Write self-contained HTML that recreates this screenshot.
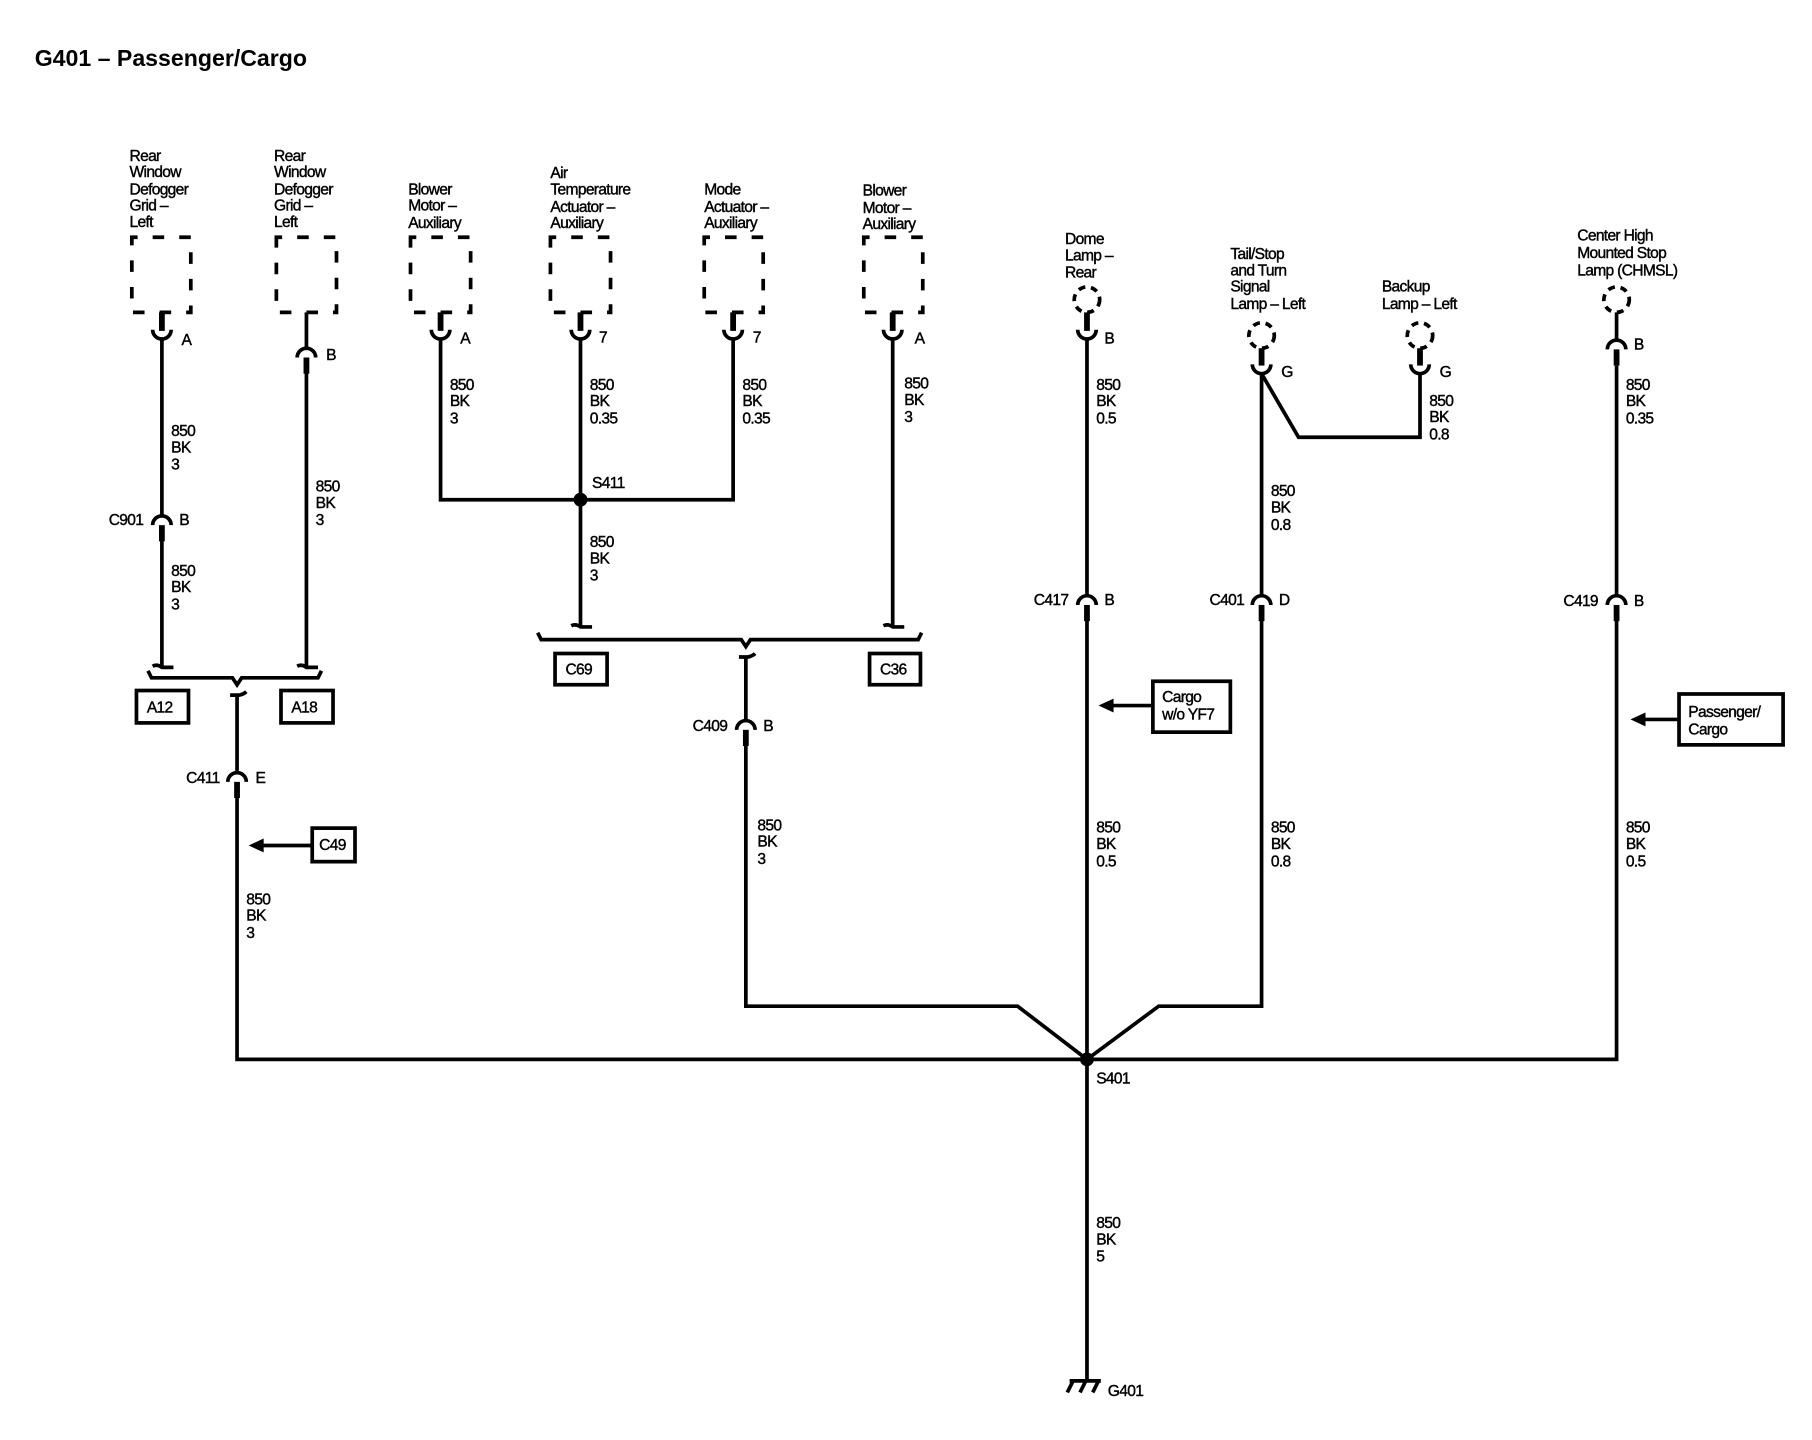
<!DOCTYPE html>
<html><head><meta charset="utf-8"><style>
html,body{margin:0;padding:0;background:#fff;}
svg{display:block;}
text{font-family:"Liberation Sans",Arial,sans-serif;font-size:13.5px;fill:#000;stroke:#000;stroke-width:0.35px;letter-spacing:-0.6px;}
.t{font-size:20px;font-weight:bold;letter-spacing:0;stroke-width:0;}
</style></head><body>
<svg width="1812" height="1440" viewBox="0 0 1567 1245" xmlns="http://www.w3.org/2000/svg">
<text x="30" y="57" class="t">G401 – Passenger/Cargo</text>

<g fill="none" stroke="#000" stroke-width="3.2" stroke-linecap="butt">
<rect x="114" y="205" width="51" height="65" stroke-dasharray="10,13" stroke-dashoffset="5"/>
<rect x="239" y="205" width="52" height="65" stroke-dasharray="10,13" stroke-dashoffset="5"/>
<rect x="355" y="205" width="52" height="65" stroke-dasharray="10,13" stroke-dashoffset="5"/>
<rect x="476" y="205" width="52" height="65" stroke-dasharray="10,13" stroke-dashoffset="5"/>
<rect x="609" y="205" width="51" height="65" stroke-dasharray="10,13" stroke-dashoffset="5"/>
<rect x="747" y="205" width="51" height="65" stroke-dasharray="10,13" stroke-dashoffset="5"/>
<circle cx="940" cy="259" r="11" stroke-dasharray="6,5"/>
<circle cx="1091" cy="290" r="11" stroke-dasharray="6,5"/>
<circle cx="1228" cy="290" r="11" stroke-dasharray="6,5"/>
<circle cx="1398" cy="259" r="11" stroke-dasharray="6,5"/>

<path d="M132,285 A8,8 0 0 0 148,285"/>
<path d="M373,285 A8,8 0 0 0 389,285"/>
<path d="M494,285 A8,8 0 0 0 510,285"/>
<path d="M626,285 A8,8 0 0 0 642,285"/>
<path d="M764,285 A8,8 0 0 0 780,285"/>
<path d="M932,285 A8,8 0 0 0 948,285"/>
<path d="M1083,315 A8,8 0 0 0 1099,315"/>
<path d="M1220,315 A8,8 0 0 0 1236,315"/>

<path d="M257,309 A8,8 0 0 1 273,309"/>
<path d="M132,454 A8,8 0 0 1 148,454"/>
<path d="M197,676 A8,8 0 0 1 213,676"/>
<path d="M637,631 A8,8 0 0 1 653,631"/>
<path d="M932,523 A8,8 0 0 1 948,523"/>
<path d="M1083,523 A8,8 0 0 1 1099,523"/>
<path d="M1390,523 A8,8 0 0 1 1406,523"/>
<path d="M1390,302 A8,8 0 0 1 1406,302"/>

<path d="M140,293 V446"/>
<path d="M140,462 V577"/>
<path d="M265,270 V301"/>
<path d="M265,317 V577"/>
<path d="M381,293 V432 H634 V293"/>
<path d="M502,293 V542"/>
<path d="M772,293 V542"/>
<path d="M205,600 V668"/>
<path d="M205,684 V916 H1398 V531"/>
<path d="M1398,294 V270"/>
<path d="M1398,316 V515"/>
<path d="M645,567 V623"/>
<path d="M645,639 V870 H880 L940,916"/>
<path d="M940,293 V515"/>
<path d="M940,531 V1194"/>
<path d="M1091,323 V515"/>
<path d="M1091,531 V870 H1002 L940,916"/>
<path d="M1091,323 L1123,378 H1228 V323"/>

<path d="M132,576 Q136,574 140,577 H150"/>
<path d="M257,576 Q261,574 265,577 H275"/>
<path d="M494,541 Q498,539 502,542 H512"/>
<path d="M764,541 Q768,539 772,542 H782"/>
<path d="M199,601 H207 Q211,600 213,598"/>
<path d="M639,568 H647 Q651,567 653,565"/>

<path d="M128,580 L131,586 H201 L205,592 L209,586 H275 L278,580"/>
<path d="M465,547 L468,553 H641 L645,559 L649,553 H794 L797,547"/>

<rect x="118" y="597" width="45" height="28"/>
<rect x="243" y="597" width="45" height="28"/>
<rect x="480" y="565" width="45" height="27"/>
<rect x="752" y="565" width="44" height="27"/>
<rect x="270" y="716" width="37" height="29"/>
<rect x="997" y="589" width="67" height="44"/>
<rect x="1452" y="600" width="90" height="44"/>

<path d="M226,731 H270"/>
<path d="M961,610 H997"/>
<path d="M1421,622 H1452"/>

<path d="M925,1194 H952 M928,1194 L923,1204 M939,1194 L934,1204 M950,1194 L945,1204"/>
</g>

<g fill="#000">
<rect x="137.5" y="270" width="5" height="16"/>
<rect x="378.5" y="270" width="5" height="16"/>
<rect x="499.5" y="270" width="5" height="16"/>
<rect x="631.5" y="270" width="5" height="16"/>
<rect x="769.5" y="270" width="5" height="16"/>
<rect x="937.5" y="270" width="5" height="16"/>
<rect x="1088.5" y="301" width="5" height="15"/>
<rect x="1225.5" y="301" width="5" height="15"/>
<rect x="262.5" y="309" width="5" height="14"/>
<rect x="1395.5" y="302" width="5" height="14"/>
<rect x="137.5" y="454" width="5" height="14"/>
<rect x="202.5" y="676" width="5" height="14"/>
<rect x="642.5" y="631" width="5" height="14"/>
<rect x="937.5" y="523" width="5" height="14"/>
<rect x="1088.5" y="523" width="5" height="14"/>
<rect x="1395.5" y="523" width="5" height="14"/>
<circle cx="502" cy="432" r="6"/>
<circle cx="940" cy="916" r="6"/>
<path d="M215,731 L228,725 V737 Z"/>
<path d="M950,610 L963,604 V616 Z"/>
<path d="M1410,622 L1423,616 V628 Z"/>
</g>

<text x="112" y="139">Rear</text><text x="112" y="153">Window</text><text x="112" y="168">Defogger</text><text x="112" y="182">Grid –</text><text x="112" y="196">Left</text>
<text x="237" y="139">Rear</text><text x="237" y="153">Window</text><text x="237" y="168">Defogger</text><text x="237" y="182">Grid –</text><text x="237" y="196">Left</text>
<text x="353" y="168">Blower</text><text x="353" y="182">Motor –</text><text x="353" y="197">Auxiliary</text>
<text x="476" y="154">Air</text><text x="476" y="168">Temperature</text><text x="476" y="183">Actuator –</text><text x="476" y="197">Auxiliary</text>
<text x="609" y="168">Mode</text><text x="609" y="183">Actuator –</text><text x="609" y="197">Auxiliary</text>
<text x="746" y="169">Blower</text><text x="746" y="184">Motor –</text><text x="746" y="198">Auxiliary</text>
<text x="921" y="211">Dome</text><text x="921" y="225">Lamp –</text><text x="921" y="240">Rear</text>
<text x="1064" y="224">Tail/Stop</text><text x="1064" y="238">and Turn</text><text x="1064" y="252">Signal</text><text x="1064" y="267">Lamp – Left</text>
<text x="1195" y="252">Backup</text><text x="1195" y="267">Lamp – Left</text>
<text x="1364" y="208">Center High</text><text x="1364" y="223">Mounted Stop</text><text x="1364" y="238">Lamp (CHMSL)</text>

<text x="157" y="298">A</text><text x="282" y="311">B</text><text x="398" y="297">A</text><text x="518" y="296">7</text>
<text x="651" y="296">7</text><text x="791" y="297">A</text><text x="955" y="297">B</text><text x="1108" y="326">G</text>
<text x="1245" y="326">G</text><text x="1413" y="302">B</text>

<text x="94" y="454">C901</text><text x="155" y="454">B</text>
<text x="161" y="677">C411</text><text x="221" y="677">E</text>
<text x="599" y="632">C409</text><text x="660" y="632">B</text>
<text x="894" y="523">C417</text><text x="955" y="523">B</text>
<text x="1046" y="523">C401</text><text x="1106" y="523">D</text>
<text x="1352" y="524">C419</text><text x="1413" y="524">B</text>
<text x="512" y="422">S411</text>
<text x="948" y="937">S401</text>
<text x="958" y="1207">G401</text>

<text x="127" y="616">A12</text><text x="252" y="616">A18</text>
<text x="489" y="583">C69</text><text x="761" y="583">C36</text>
<text x="276" y="735">C49</text>
<text x="1005" y="607">Cargo</text><text x="1005" y="622">w/o YF7</text>
<text x="1460" y="620">Passenger/</text><text x="1460" y="635">Cargo</text>

<g>
<text x="148" y="377">850</text><text x="148" y="391">BK</text><text x="148" y="406">3</text>
<text x="148" y="498">850</text><text x="148" y="512">BK</text><text x="148" y="527">3</text>
<text x="273" y="425">850</text><text x="273" y="439">BK</text><text x="273" y="454">3</text>
<text x="213" y="782">850</text><text x="213" y="796">BK</text><text x="213" y="811">3</text>
<text x="389" y="337">850</text><text x="389" y="351">BK</text><text x="389" y="366">3</text>
<text x="510" y="337">850</text><text x="510" y="351">BK</text><text x="510" y="366">0.35</text>
<text x="510" y="473">850</text><text x="510" y="487">BK</text><text x="510" y="502">3</text>
<text x="642" y="337">850</text><text x="642" y="351">BK</text><text x="642" y="366">0.35</text>
<text x="782" y="336">850</text><text x="782" y="350">BK</text><text x="782" y="365">3</text>
<text x="655" y="718">850</text><text x="655" y="732">BK</text><text x="655" y="747">3</text>
<text x="948" y="337">850</text><text x="948" y="351">BK</text><text x="948" y="366">0.5</text>
<text x="948" y="720">850</text><text x="948" y="734">BK</text><text x="948" y="749">0.5</text>
<text x="1236" y="351">850</text><text x="1236" y="365">BK</text><text x="1236" y="380">0.8</text>
<text x="1099" y="429">850</text><text x="1099" y="443">BK</text><text x="1099" y="458">0.8</text>
<text x="1099" y="720">850</text><text x="1099" y="734">BK</text><text x="1099" y="749">0.8</text>
<text x="1406" y="337">850</text><text x="1406" y="351">BK</text><text x="1406" y="366">0.35</text>
<text x="1406" y="720">850</text><text x="1406" y="734">BK</text><text x="1406" y="749">0.5</text>
<text x="948" y="1062">850</text><text x="948" y="1076">BK</text><text x="948" y="1091">5</text>
</g>
</svg>
</body></html>
